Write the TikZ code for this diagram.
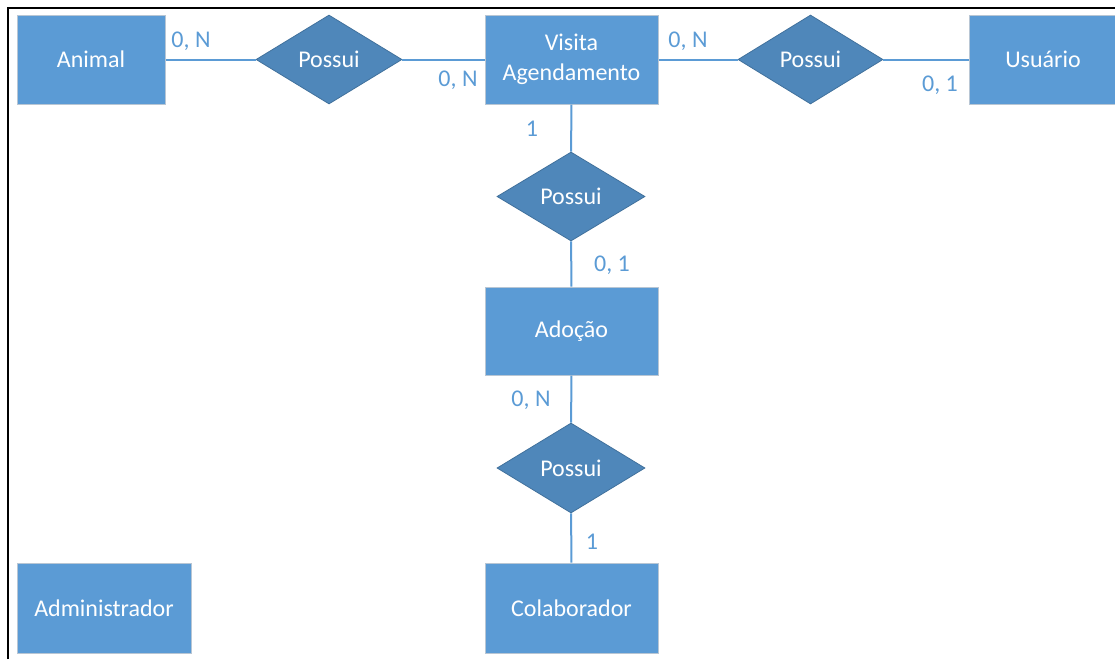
\documentclass[tikz,border=0pt]{standalone}
\usepackage{fontspec}
\setmainfont{Carlito}
\usetikzlibrary{shapes.geometric}

\definecolor{boxblue}{HTML}{5B9BD5}
\definecolor{relblue}{HTML}{4F87BA}
\definecolor{reledge}{HTML}{41719C}
\definecolor{boxedge}{HTML}{B8C6D4}

\begin{document}
\begin{tikzpicture}[x=1pt, y=-1pt,
		entity/.style={draw=boxedge, line width=1pt, fill=boxblue, text=white, inner sep=0pt, minimum height=89pt, align=center, font=\fontsize{24}{30}\selectfont},
		relation/.style={diamond, draw=reledge, line width=0.8pt, fill=relblue, text=white, inner sep=0pt, minimum width=146pt, minimum height=89pt, font=\fontsize{24}{30}\selectfont},
		card/.style={text=boxblue, inner sep=0pt, font=\fontsize{24}{30}\selectfont},
		link/.style={draw=boxblue, line width=2pt}]
		\useasboundingbox (0, 0) rectangle (1115, 659);
		\draw[line width=2pt] (8, 659) -- (8, 8) -- (1115, 8);

		\node[entity, minimum width=148pt] (animal) at (91, 59.5) {Animal};
		\node[relation] (possui1) at (329, 59.5) {Possui};
		\node[entity, minimum width=173pt] (visita) at (571.5, 59.5) {Visita\\Agendamento};
		\node[relation, minimum width=145pt] (possui2) at (810.5, 59.5) {Possui};
		\node[entity, minimum width=148pt] (usuario) at (1043, 59.5) {Usuário};
		\node[relation, minimum width=148pt] (possui3) at (571, 196.5) {Possui};
		\node[entity, minimum width=173pt, minimum height=88pt] (adocao) at (571.5, 331) {Adoção};
		\node[relation, minimum width=148pt, minimum height=90pt] (possui4) at (571, 468) {Possui};
		\node[entity, minimum width=173pt, minimum height=90pt] (colaborador) at (571.5, 608) {Colaborador};
		\node[entity, minimum width=174pt, minimum height=90pt] (admin) at (104, 608) {Administrador};

		\draw[link] (animal) -- (possui1);
		\draw[link] (possui1) -- (visita);
		\draw[link] (visita) -- (possui2);
		\draw[link] (possui2) -- (usuario);
		\draw[link] (visita) -- (possui3);
		\draw[link] (possui3) -- (adocao);
		\draw[link] (adocao) -- (possui4);
		\draw[link] (possui4) -- (colaborador);

		\node[card] (c1) at (191, 41) {0, N};
		\node[card] (c2) at (458, 80) {0, N};
		\node[card] (c3) at (688, 41) {0, N};
		\node[card] (c4) at (940, 85) {0, 1};
		\node[card] (c5) at (532, 129) {1};
		\node[card] (c6) at (612, 265) {0, 1};
		\node[card] (c7) at (531, 400) {0, N};
		\node[card] (c8) at (592, 542) {1};
	\end{tikzpicture}
\end{document}
